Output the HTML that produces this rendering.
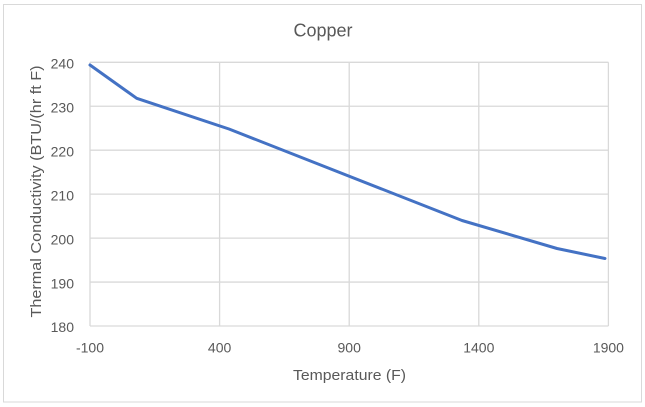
<!DOCTYPE html>
<html>
<head>
<meta charset="utf-8">
<style>
html,body{margin:0;padding:0;background:#fff;}
svg{display:block;}
text{font-family:"Liberation Sans",Arial,sans-serif;fill:#595959;}
</style>
</head>
<body>
<svg width="645" height="407" viewBox="0 0 645 407" xmlns="http://www.w3.org/2000/svg">
<rect x="3.5" y="4.5" width="638" height="397.5" fill="#fff" stroke="#d9d9d9" stroke-width="1"/>
<text x="323" y="36.5" font-size="18" text-anchor="middle">Copper</text>
<g stroke="#d9d9d9" stroke-width="1.3">
<line x1="90" y1="62.3" x2="608.4" y2="62.3"/>
<line x1="90" y1="106.25" x2="608.4" y2="106.25"/>
<line x1="90" y1="150.2" x2="608.4" y2="150.2"/>
<line x1="90" y1="194.15" x2="608.4" y2="194.15"/>
<line x1="90" y1="238.1" x2="608.4" y2="238.1"/>
<line x1="90" y1="282.05" x2="608.4" y2="282.05"/>
<line x1="90" y1="326" x2="608.4" y2="326"/>
<line x1="90" y1="62.3" x2="90" y2="326"/>
<line x1="219.6" y1="62.3" x2="219.6" y2="326"/>
<line x1="349.2" y1="62.3" x2="349.2" y2="326"/>
<line x1="478.8" y1="62.3" x2="478.8" y2="326"/>
<line x1="608.4" y1="62.3" x2="608.4" y2="326"/>
</g>
<g font-size="14" text-anchor="end">
<text x="74" y="68.5">240</text>
<text x="74" y="112.5">230</text>
<text x="74" y="156.5">220</text>
<text x="74" y="200.5">210</text>
<text x="74" y="244.5">200</text>
<text x="74" y="288.5">190</text>
<text x="74" y="332">180</text>
</g>
<g font-size="14" text-anchor="middle">
<text x="90" y="352.5">-100</text>
<text x="219.6" y="352.5">400</text>
<text x="349.2" y="352.5">900</text>
<text x="478.8" y="352.5">1400</text>
<text x="608.4" y="352.5">1900</text>
</g>
<text x="349.5" y="380" font-size="15" text-anchor="middle" textLength="113" lengthAdjust="spacingAndGlyphs">Temperature (F)</text>
<text transform="translate(41,191.5) rotate(-90)" font-size="15" text-anchor="middle" textLength="252" lengthAdjust="spacingAndGlyphs">Thermal Conductivity (BTU/(hr ft F)</text>
<polyline fill="none" stroke="#4472c4" stroke-width="3" stroke-linejoin="round" stroke-linecap="round"
points="90,65 136.7,98.3 229,129 462,220.5 557,248.5 605,258.5"/>
</svg>
</body>
</html>
